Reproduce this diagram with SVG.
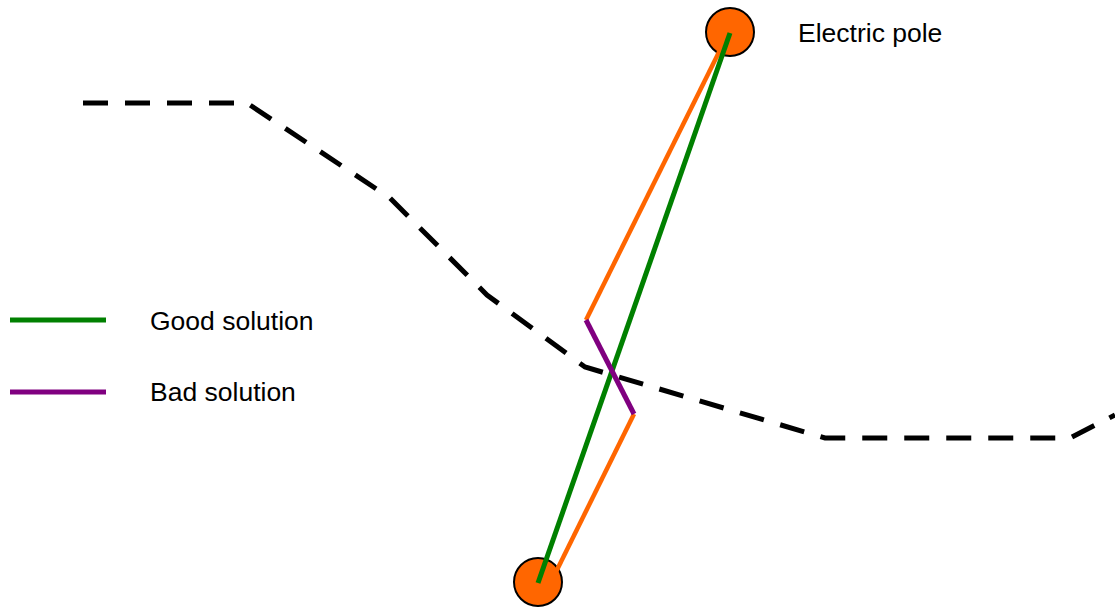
<svg xmlns="http://www.w3.org/2000/svg" width="1115" height="607" viewBox="0 0 1115 607">
<style>
.pole{fill:#ff6600;stroke:#000;stroke-width:2}
.lbl{font-family:"Liberation Sans",Arial,sans-serif;font-size:26.5px;fill:#000}
.or{stroke:#ff6600;stroke-width:4.5;fill:none}
.gr{stroke:#008000;stroke-width:5;fill:none}
.pu{stroke:#800080;stroke-width:5;fill:none}
</style>
<rect width="1115" height="607" fill="#fff"/>
<g id="road">
<polyline points="83,103 247,103 390,198 487,295 585,367 825,438 1070,438 1115,415" fill="none" stroke="#000" stroke-width="5" stroke-dasharray="25,17"/>
</g>
<g id="pole1"><circle class="pole" cx="730" cy="32" r="24"/></g>
<g id="pole2"><circle class="pole" cx="538" cy="582" r="24"/></g>
<g id="connectors">
<polyline class="or" points="724,42 586,320"/>
<polyline class="or" points="634,414 553,578"/>
<line class="gr" x1="730" y1="33" x2="538" y2="583"/>
<line class="pu" x1="586" y1="320" x2="634" y2="414"/>
</g>
<g id="legend">
<line class="gr" x1="10" y1="320" x2="106" y2="320"/>
<line class="pu" x1="10" y1="392" x2="106" y2="392"/>
<text class="lbl" x="150" y="330">Good solution</text>
<text class="lbl" x="150" y="401">Bad solution</text>
</g>
<g id="label-pole"><text class="lbl" x="798" y="42">Electric pole</text></g>
</svg>
